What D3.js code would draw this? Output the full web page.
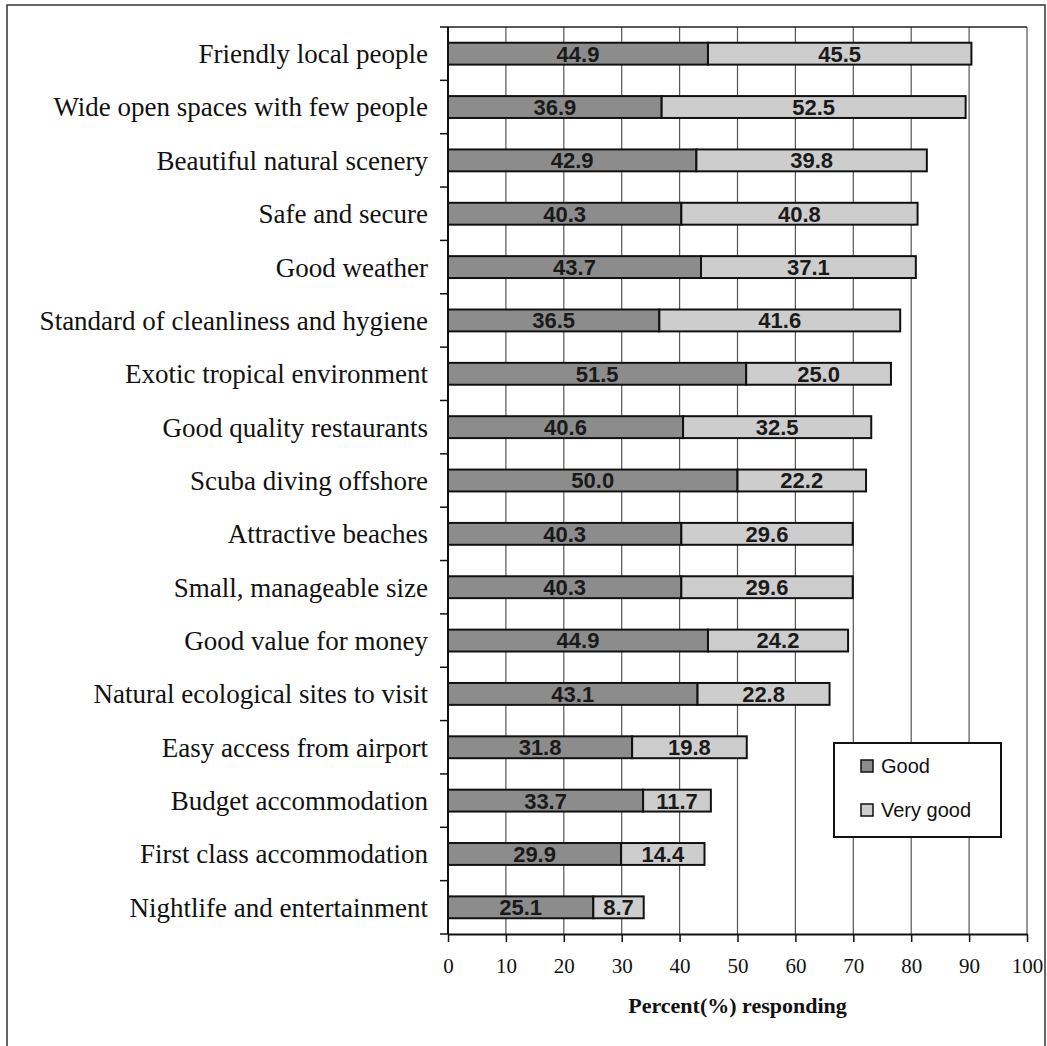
<!DOCTYPE html>
<html><head><meta charset="utf-8">
<script src="https://cdn.jsdelivr.net/npm/d3@7"></script>
<style>body{margin:0;background:#fff}</style>
</head><body>
<svg id="c" width="1047" height="1046"></svg>
<script>
const categories = ["Friendly local people","Wide open spaces with few people","Beautiful natural scenery","Safe and secure","Good weather","Standard of cleanliness and hygiene","Exotic tropical environment","Good quality restaurants","Scuba diving offshore","Attractive beaches","Small, manageable size","Good value for money","Natural ecological sites to visit","Easy access from airport","Budget accommodation","First class accommodation","Nightlife and entertainment"];
const good = [44.9,36.9,42.9,40.3,43.7,36.5,51.5,40.6,50.0,40.3,40.3,44.9,43.1,31.8,33.7,29.9,25.1];
const veryGood = [45.5,52.5,39.8,40.8,37.1,41.6,25.0,32.5,22.2,29.6,29.6,24.2,22.8,19.8,11.7,14.4,8.7];
const seriesNames = ["Good","Very good"];
const xTicks = [0,10,20,30,40,50,60,70,80,90,100];
const colors = ["#8c8c8c","#cdcdcd"];

const svg = d3.select("#c");
const L=448, R=1027, T=27, B=934;
svg.append("rect").attr("x",7).attr("y",5).attr("width",1038).attr("height",1060)
  .attr("fill","none").attr("stroke","#333").attr("stroke-width",1.5);

const x = d3.scaleLinear().domain([0,100]).range([L,R]);
const y = d3.scaleBand().domain(categories).range([T,B]).paddingInner(0.59).paddingOuter(0.295);

// gridlines
svg.append("g").selectAll("line").data(xTicks.slice(1)).join("line")
  .attr("x1",d=>x(d)).attr("x2",d=>x(d)).attr("y1",T).attr("y2",B)
  .attr("stroke","#555").attr("stroke-width",1.2);
// top border
svg.append("line").attr("x1",L).attr("x2",R).attr("y1",T).attr("y2",T).attr("stroke","#222").attr("stroke-width",1.5);

// bars
const rows = categories.map((c,i)=>({c, segs:[{s:0,v:good[i],k:0},{s:good[i],v:veryGood[i],k:1}]}));
const g = svg.append("g");
rows.forEach(r=>{
  r.segs.forEach(sg=>{
    g.append("rect").attr("x",x(sg.s)).attr("y",y(r.c)).attr("width",x(sg.s+sg.v)-x(sg.s))
      .attr("height",y.bandwidth()).attr("fill",colors[sg.k]).attr("stroke","#111").attr("stroke-width",2);
    g.append("text").attr("x",x(sg.s+sg.v/2)).attr("y",y(r.c)+y.bandwidth()/2).attr("dy","0.36em")
      .attr("text-anchor","middle").attr("font-family","Liberation Sans, Arial, sans-serif")
      .attr("font-weight","bold").attr("font-size",22).attr("fill","#1a1a1a").text(sg.v.toFixed(1));
  });
});

// y axis
const yAxis = svg.append("g");
yAxis.append("line").attr("x1",L).attr("x2",L).attr("y1",T).attr("y2",B).attr("stroke","#111").attr("stroke-width",2);
const bounds = d3.range(categories.length+1).map(i=> T + i*y.step());
yAxis.selectAll(".yt").data(bounds).join("line").attr("class","yt")
  .attr("x1",L-8).attr("x2",L).attr("y1",d=>d).attr("y2",d=>d).attr("stroke","#111").attr("stroke-width",1.5);
yAxis.selectAll("text").data(categories).join("text")
  .attr("x",L-20).attr("y",d=>y(d)+y.bandwidth()/2).attr("dy","0.35em").attr("text-anchor","end")
  .attr("font-family","Liberation Serif, Times New Roman, serif").attr("font-size",27).attr("fill","#111").text(d=>d);

// x axis
const xa = svg.append("g").attr("transform",`translate(0,${B})`)
  .call(d3.axisBottom(x).tickValues(xTicks).tickSize(8).tickSizeOuter(0).tickPadding(16));
xa.select(".domain").attr("stroke","#111").attr("stroke-width",2);
xa.selectAll(".tick line").attr("stroke","#111").attr("stroke-width",1.5);
xa.selectAll(".tick text").attr("font-family","Liberation Serif, Times New Roman, serif").attr("font-size",21).attr("fill","#111");
svg.append("text").attr("x",(L+R)/2).attr("y",1013).attr("text-anchor","middle")
  .attr("font-family","Liberation Serif, Times New Roman, serif").attr("font-weight","bold").attr("font-size",22)
  .attr("fill","#111").text("Percent(%) responding");

// legend
const lg = svg.append("g");
lg.append("rect").attr("x",834).attr("y",743).attr("width",167).attr("height",94).attr("fill","#fff").attr("stroke","#111").attr("stroke-width",2);
seriesNames.forEach((n,i)=>{
  const cy = 766 + i*44;
  lg.append("rect").attr("x",861).attr("y",cy-6).attr("width",12).attr("height",12).attr("fill",colors[i]).attr("stroke","#111").attr("stroke-width",1.5);
  lg.append("text").attr("x",881).attr("y",cy).attr("dy","0.35em").attr("font-family","Liberation Sans, Arial, sans-serif")
    .attr("font-size",20).attr("fill","#111").text(n);
});
</script>
</body></html>
